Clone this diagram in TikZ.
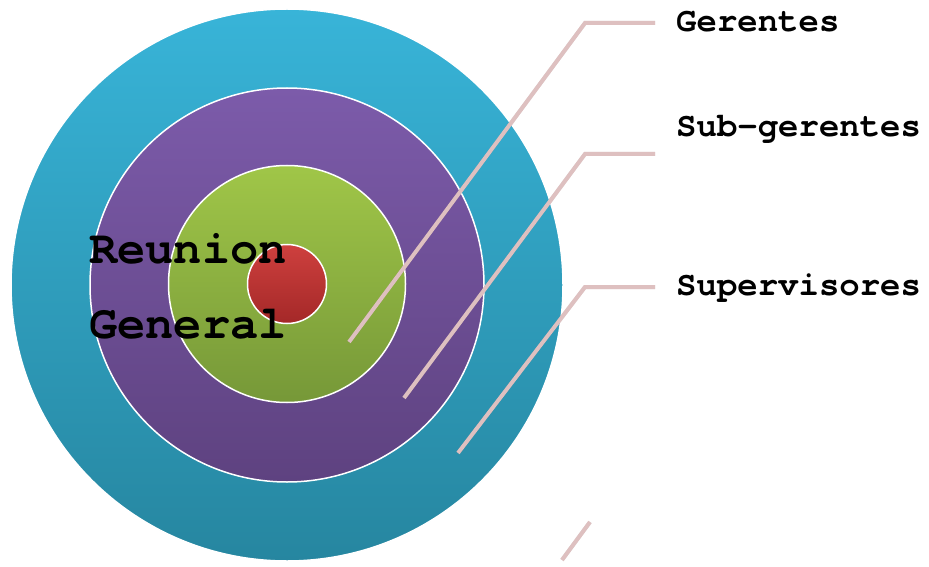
\documentclass[tikz,border=0pt]{standalone}
\usepackage{fontspec}
\newfontfamily\labelfont{TeX Gyre Cursor}
\definecolor{tealtop}{RGB}{56,180,216}
\definecolor{tealbot}{RGB}{38,134,160}
\definecolor{purtop}{RGB}{124,91,170}
\definecolor{purbot}{RGB}{94,66,128}
\definecolor{grntop}{RGB}{160,198,72}
\definecolor{grnbot}{RGB}{118,152,56}
\definecolor{redtop}{RGB}{206,64,62}
\definecolor{redbot}{RGB}{164,40,40}
\definecolor{leader}{RGB}{222,192,192}
\tikzset{
  ring/.style={circle, draw=white, line width=1.5pt, inner sep=0pt},
  leaderline/.style={draw=leader, line width=4pt},
  leadershadow/.style={draw=black, opacity=0.12, line width=4pt},
  itemtext/.style={font=\labelfont\bfseries\fontsize{34}{40}\selectfont, anchor=base west, inner sep=0pt},
  centertext/.style={font=\labelfont\bfseries\fontsize{47}{56}\selectfont, anchor=base west, inner sep=0pt}
}
\begin{document}
\begin{tikzpicture}[x=1pt,y=-1pt]
\useasboundingbox (0,0) rectangle (929,567);
% circles
\node[ring, minimum size=552pt, top color=tealtop, bottom color=tealbot] (outer) at (287,285) {};
\node[ring, minimum size=394pt, top color=purtop, bottom color=purbot] (mid) at (287,285) {};
\node[ring, minimum size=237pt, top color=grntop, bottom color=grnbot] (inner) at (287,284) {};
\node[ring, minimum size=79pt, top color=redtop, bottom color=redbot] (core) at (287,284) {};
% texts
\node[centertext] (reunion) at (89,263) {Reunion};
\node[centertext] (general) at (89,338) {General};
\node[itemtext] (gerentes) at (676,32) {Gerentes};
\node[itemtext] (subg) at (676,137) {Sub-gerentes};
\node[itemtext] (superv) at (676,295) {Supervisores};
% leader coordinates
\coordinate (g1) at (349,342);
\coordinate (g2) at (585,23);
\coordinate (g3) at (655,23);
\coordinate (s1) at (404,398);
\coordinate (s2) at (585,154);
\coordinate (s3) at (655,154);
\coordinate (p1) at (458,453);
\coordinate (p2) at (585,287);
\coordinate (p3) at (655,287);
\coordinate (q1) at (562,560);
\coordinate (q2) at (590,522);
% shadows
\begin{scope}[shift={(2,3)}]
\draw[leadershadow] (g1) -- (g2) -- (g3);
\draw[leadershadow] (s1) -- (s2) -- (s3);
\draw[leadershadow] (p1) -- (p2) -- (p3);
\draw[leadershadow] (q1) -- (q2);
\end{scope}
% leaders
\draw[leaderline] (g1) -- (g2) -- (g3);
\draw[leaderline] (s1) -- (s2) -- (s3);
\draw[leaderline] (p1) -- (p2) -- (p3);
\draw[leaderline] (q1) -- (q2);
\end{tikzpicture}
\end{document}
